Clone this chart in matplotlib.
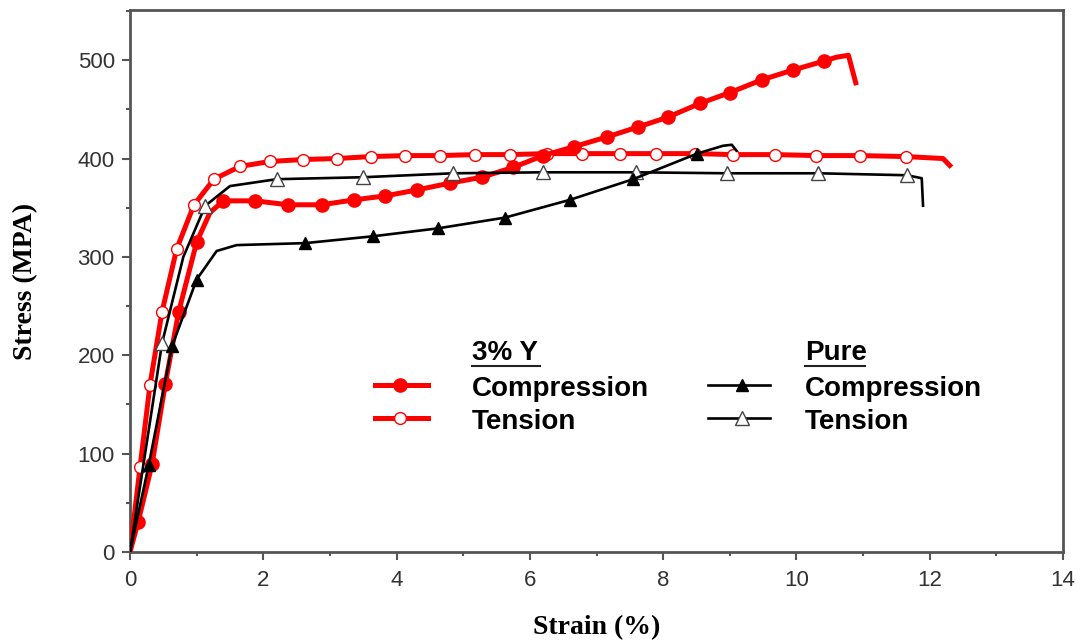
import matplotlib.pyplot as plt
from matplotlib.lines import Line2D
from matplotlib.ticker import MultipleLocator

# data: (strain %, stress MPa)
y3_comp_x = [0, 0.12, 0.33, 0.53, 0.73, 1.0, 1.2, 1.40, 1.88, 2.37, 2.88, 3.36, 3.83, 4.30,
             4.80, 5.28, 5.75, 6.20, 6.66, 7.16, 7.62, 8.07, 8.55, 9.0, 9.48, 9.95, 10.41,
             10.6, 10.78, 10.89]
y3_comp_y = [0, 30, 89, 171, 244, 315, 345, 357, 357, 353, 353, 358, 362, 368,
             375, 381, 391, 403, 412, 422, 432, 442, 456, 467, 480, 490, 499,
             503, 505, 477]
y3_comp_mk = [1, 2, 3, 4, 5, 7, 8, 9, 10, 11, 12, 13, 14, 15, 16, 17, 18, 19, 20, 21, 22,
              23, 24, 25, 26]

y3_tens_x = [0, 0.15, 0.3, 0.48, 0.7, 0.96, 1.26, 1.65, 2.1, 2.6, 3.1, 3.62, 4.13, 4.65,
             5.18, 5.7, 6.26, 6.78, 7.35, 7.9, 8.48, 9.05, 9.68, 10.3, 10.95, 11.64,
             12.2, 12.3]
y3_tens_y = [0, 86, 170, 244, 308, 353, 379, 392, 397, 399, 400, 402, 403, 403,
             404, 404, 405, 405, 405, 405, 405, 404, 404, 403, 403, 402, 400, 393]
y3_tens_mk = list(range(1, 26))

pure_comp_x = [0, 0.28, 0.63, 1.0, 1.3, 1.6, 2.63, 3.65, 4.62, 5.63, 6.6, 7.55, 8.51,
               8.9, 9.03, 9.1]
pure_comp_y = [0, 88, 209, 277, 306, 312, 314, 321, 329, 340, 358, 379, 405, 413, 414, 408]
pure_comp_mk = [1, 2, 3, 6, 7, 8, 9, 10, 11, 12]

pure_tens_x = [0, 0.48, 0.8, 1.13, 1.5, 2.2, 3.5, 4.85, 6.2, 7.6, 8.96, 10.33, 11.66,
               11.88, 11.9]
pure_tens_y = [0, 212, 300, 352, 372, 379, 381, 385, 386, 386, 385, 385, 383, 380, 352]
pure_tens_mk = [1, 3, 5, 6, 7, 8, 9, 10, 11, 12]

RED = '#ff0000'
GRAY = '#555555'

fig = plt.figure(figsize=(10.81, 6.42), dpi=100)
ax = fig.add_axes([130 / 1081, 1 - 552 / 642, 933 / 1081, 542 / 642])

red_comp = dict(color=RED, lw=3.6, marker='o', ms=9.5, mfc=RED, mec=RED)
red_tens = dict(color=RED, lw=3.6, marker='o', ms=8.5, mfc='white', mec=RED, mew=1.0)
blk_comp = dict(color='black', lw=1.9, marker='^', ms=9, mfc='black', mec='black')
blk_tens = dict(color='black', lw=1.9, marker='^', ms=10, mfc='white', mec='#444444', mew=1.0)

ax.plot(y3_tens_x, y3_tens_y, markevery=y3_tens_mk, zorder=3, **red_tens)
ax.plot(y3_comp_x, y3_comp_y, markevery=y3_comp_mk, zorder=4, **red_comp)
ax.plot(pure_tens_x, pure_tens_y, markevery=pure_tens_mk, zorder=5, **blk_tens)
ax.plot(pure_comp_x, pure_comp_y, markevery=pure_comp_mk, zorder=5, **blk_comp)

ax.set_xlim(0, 14)
ax.set_ylim(0, 551)
ax.xaxis.set_major_locator(MultipleLocator(2))
ax.xaxis.set_minor_locator(MultipleLocator(1))
ax.yaxis.set_major_locator(MultipleLocator(100))
ax.yaxis.set_minor_locator(MultipleLocator(50))
ax.tick_params(which='both', direction='out', color=GRAY, width=1.5,
               labelsize=16, labelcolor='#333333', pad=5)
ax.tick_params(which='major', length=6)
ax.tick_params(which='minor', length=3)
ax.tick_params(axis='x', pad=7)
for lbl in ax.get_xticklabels() + ax.get_yticklabels():
    lbl.set_family('Liberation Sans')
for s in ax.spines.values():
    s.set_color(GRAY)
    s.set_linewidth(2)

ax.set_xlabel('Strain (%)', family='Liberation Serif', fontweight='bold', fontsize=20, labelpad=17)
ax.set_ylabel('Stress (MPA)', family='Liberation Serif', fontweight='bold', fontsize=20, labelpad=28)

# hand-placed legend (two groups with underlined headers)
def legend_row(x0, x1, xm, y, style, label):
    ax.add_line(Line2D([x0, x1], [y, y], transform=ax.transAxes,
                       **{k: v for k, v in style.items() if k not in ('marker', 'ms', 'mfc', 'mec', 'mew')}))
    mk = {k: v for k, v in style.items() if k in ('marker', 'ms', 'mfc', 'mec', 'mew')}
    ax.add_line(Line2D([xm], [y], transform=ax.transAxes, linestyle='none', **mk))
    ax.text(x0 + 0.104, y - 0.008, label, transform=ax.transAxes, fontsize=20, fontweight='bold',
            family='Liberation Sans', va='center', ha='left')

def legend_header(x, y, label, width):
    ax.text(x, y, label, transform=ax.transAxes, fontsize=20, fontweight='bold',
            family='Liberation Sans', va='center', ha='left')
    ax.add_line(Line2D([x, x + width], [y - 0.025, y - 0.025], transform=ax.transAxes,
                       color='#222222', lw=1.5))

legend_header(0.3666, 0.368, '3% Y', 0.073)
legend_row(0.2626, 0.3194, 0.2894, 0.308, red_comp, 'Compression')
legend_row(0.2626, 0.3194, 0.2894, 0.247, red_tens, 'Tension')
legend_header(0.7235, 0.368, 'Pure', 0.064)
legend_row(0.6195, 0.686, 0.656, 0.308, blk_comp, 'Compression')
legend_row(0.6195, 0.686, 0.656, 0.247, blk_tens, 'Tension')

fig.savefig('out.png', dpi=100)
